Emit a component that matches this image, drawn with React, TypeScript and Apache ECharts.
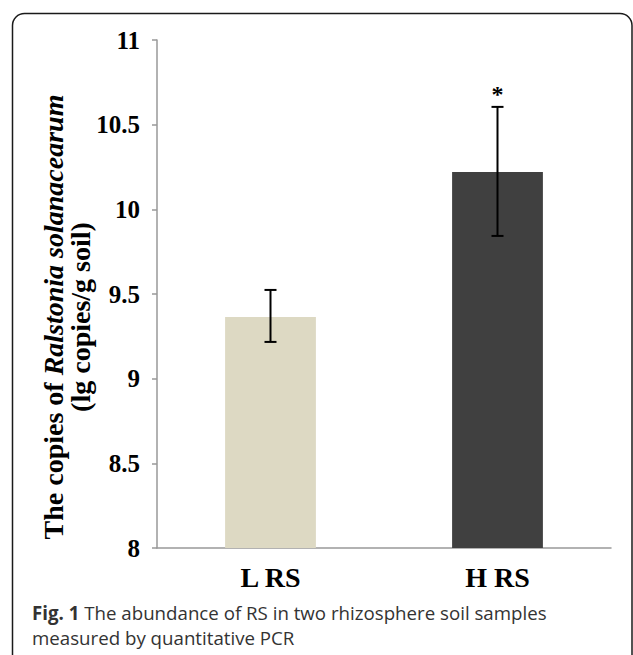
import React, { useEffect, useRef } from "react";
import * as echarts from "echarts";

const categories = ["L RS", "H RS"];
const means = [9.364, 10.22];
const errLow = [9.217, 9.843];
const errHigh = [9.524, 10.605];
const significance = ["", "*"];
const barColors = ["#DDD9C3", "#404040"];
const yMin = 8;
const yMax = 11;
const yInterval = 0.5;
const titleLine1Plain = "The copies of ";
const titleLine1Italic = "Ralstonia solanacearum";
const titleLine2 = "(lg copies/g soil)";
const captionBold = "Fig. 1";
const captionLine1 = " The abundance of RS in two rhizosphere soil samples";
const captionLine2 = "measured by quantitative PCR";

export default function App() {
  const ref = useRef<HTMLDivElement>(null);
  useEffect(() => {
    document.body.style.margin = "0";
    const chart = echarts.init(ref.current!, null, { renderer: "svg" });
    const serif = "'Liberation Serif', 'Times New Roman', serif";
    const sans = "'Open Sans', 'Noto Sans', sans-serif";
    chart.setOption({
      animation: false,
      backgroundColor: "#fff",
      grid: { left: 157, right: 22, top: 40, bottom: 107 },
      xAxis: {
        type: "category",
        data: categories,
        axisLine: { lineStyle: { color: "#999", width: 1.5 } },
        axisTick: { length: 8, lineStyle: { color: "#999", width: 1.5 } },
        axisLabel: {
          fontFamily: serif,
          fontWeight: "bold",
          fontSize: 28,
          color: "#000",
          margin: 15,
        },
      },
      yAxis: {
        type: "value",
        min: yMin,
        max: yMax,
        interval: yInterval,
        axisLine: { show: true, lineStyle: { color: "#999", width: 1.5 } },
        axisTick: { show: true, length: 5, lineStyle: { color: "#999", width: 1.5 } },
        splitLine: { show: false },
        axisLabel: {
          fontFamily: serif,
          fontWeight: "bold",
          fontSize: 25,
          color: "#000",
          margin: 17,
        },
      },
      series: [
        {
          type: "bar",
          barWidth: "40%",
          data: means.map((v, i) => ({ value: v, itemStyle: { color: barColors[i] } })),
        },
        {
          type: "custom",
          z: 5,
          data: categories.map((_, i) => [i, errLow[i], errHigh[i]]),
          encode: { x: 0, y: [1, 2] },
          renderItem: (params: any, api: any) => {
            const xi = api.value(0);
            const pLo = api.coord([xi, api.value(1)]);
            const pHi = api.coord([xi, api.value(2)]);
            const hw = 6;
            const st = { stroke: "#000", lineWidth: 2 };
            const children: any[] = [
              { type: "line", shape: { x1: pLo[0], y1: pLo[1], x2: pHi[0], y2: pHi[1] }, style: st },
              { type: "line", shape: { x1: pLo[0] - hw, y1: pLo[1], x2: pLo[0] + hw, y2: pLo[1] }, style: st },
              { type: "line", shape: { x1: pHi[0] - hw, y1: pHi[1], x2: pHi[0] + hw, y2: pHi[1] }, style: st },
            ];
            const sig = significance[params.dataIndex];
            if (sig) {
              children.push({
                type: "text",
                x: pHi[0],
                y: pHi[1] - 13,
                style: {
                  text: sig,
                  font: `bold 24px ${serif}`,
                  fill: "#000",
                  align: "center",
                  verticalAlign: "middle",
                  textAlign: "center",
                  textVerticalAlign: "middle",
                },
              });
            }
            return { type: "group", children };
          },
        },
      ],
      graphic: [
        {
          type: "rect",
          silent: true,
          shape: { x: 12.5, y: 13.5, width: 619.5, height: 700, r: 12 },
          style: { fill: "none", stroke: "#1a1a1a", lineWidth: 1.5 },
        },
        {
          type: "text",
          x: 67,
          y: 317,
          rotation: Math.PI / 2,
          style: {
            text: `{a|${titleLine1Plain}}{i|${titleLine1Italic}}\n{a|${titleLine2}}`,
            align: "center",
            verticalAlign: "middle",
            textAlign: "center",
            textVerticalAlign: "middle",
            fill: "#000",
            rich: {
              a: { fontFamily: serif, fontWeight: "bold", fontSize: 28, lineHeight: 27, fill: "#000" },
              i: { fontFamily: serif, fontWeight: "bold", fontStyle: "italic", fontSize: 28, lineHeight: 27, fill: "#000" },
            },
          },
        },
        {
          type: "text",
          x: 32,
          y: 612.5,
          style: {
            text: `{b|${captionBold}}{n|${captionLine1}}`,
            align: "left",
            verticalAlign: "middle",
            textAlign: "left",
            textVerticalAlign: "middle",
            rich: {
              b: { fontFamily: sans, fontWeight: "bold", fontSize: 18.7, fill: "#333" },
              n: { fontFamily: sans, fontSize: 18.7, fill: "#333" },
            },
          },
        },
        {
          type: "text",
          x: 32,
          y: 637.5,
          style: {
            text: captionLine2,
            font: `18.7px ${sans}`,
            fill: "#333",
            align: "left",
            verticalAlign: "middle",
            textAlign: "left",
            textVerticalAlign: "middle",
          },
        },
      ],
    });
    return () => chart.dispose();
  }, []);
  return (
    <div
      ref={ref}
      style={{ position: "absolute", left: 0, top: 0, width: 633, height: 655 }}
    />
  );
}
